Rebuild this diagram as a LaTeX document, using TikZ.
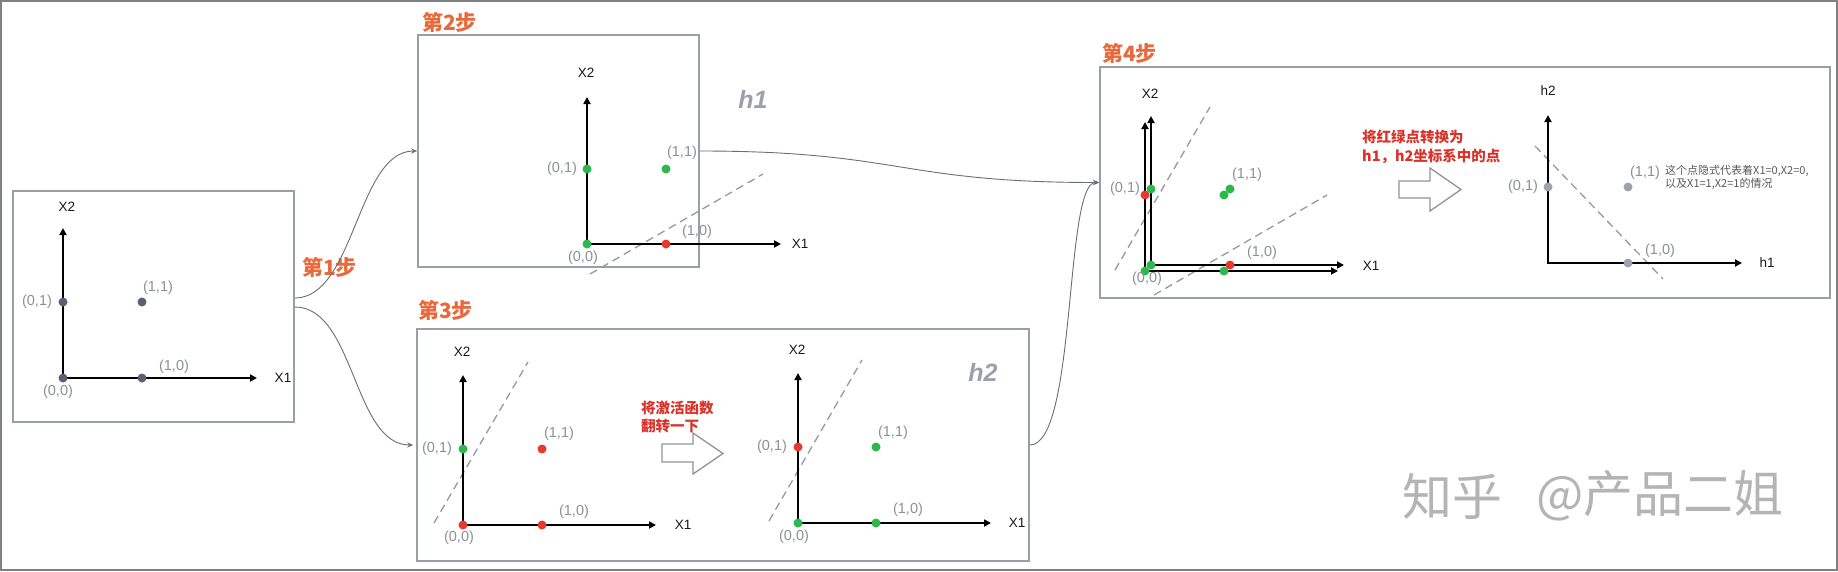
\documentclass[tikz,border=0pt]{standalone}
\usepackage{fontspec}
\setmainfont{Liberation Sans}
\newfontfamily\cjk{Noto Sans CJK SC}
\usetikzlibrary{arrows.meta,calc}
\definecolor{orangeT}{HTML}{E8693B}
\definecolor{redT}{HTML}{D8322A}
\definecolor{ptgreen}{HTML}{2DB84C}
\definecolor{ptred}{HTML}{E63A2E}
\definecolor{ptslate}{HTML}{5A6172}
\definecolor{ptgray}{HTML}{9EA2AD}
\definecolor{boxgray}{HTML}{9A9EA8}
\definecolor{labgray}{HTML}{8C9099}
\definecolor{hgray}{HTML}{9BA0AA}
\definecolor{framegray}{HTML}{808080}
\definecolor{wmgray}{HTML}{B4B4B4}
\definecolor{conngray}{HTML}{6A6E78}
\definecolor{notegray}{HTML}{5A5A5A}
\tikzset{
  box/.style={draw=boxgray, line width=1.6pt, inner sep=0pt},
  axis/.style={line width=1.8pt, black, {Triangle[length=7pt,width=7pt]}-{Triangle[length=7pt,width=7pt]}},
  dot/.style={circle, inner sep=0pt, minimum size=9pt},
  coordlab/.style={text=labgray, font=\fontsize{14.5}{17}\selectfont, inner sep=0pt},
  axlab/.style={text=black!90, font=\fontsize{13.5}{16}\selectfont, inner sep=0pt},
  steplbl/.style={text=orangeT, font=\cjk\bfseries\fontsize{21}{24}\selectfont, inner sep=0pt},
  hlab/.style={text=hgray, font=\bfseries\itshape\fontsize{25}{30}\selectfont, inner sep=0pt},
  sepline/.style={draw=gray!80, dash pattern=on 8pt off 5pt, line width=1.3pt},
  conn/.style={draw=conngray, line width=0.9pt, -{Stealth[length=6pt,width=5pt]}},
  hollow/.style={draw=gray!85, fill=white, line width=1.3pt},
  note/.style={text=redT, font=\cjk\bfseries\fontsize{14.5}{18}\selectfont, align=left, inner sep=0pt},
  smallnote/.style={text=notegray, font=\cjk\fontsize{11}{13}\selectfont, align=left, inner sep=0pt},
  wmark/.style={text=wmgray, font=\cjk\fontsize{50}{56}\selectfont, inner sep=0pt}
}
\newcommand\axset[5]{% name, ox, oy, top y, end x
  \coordinate (#1o) at (#2,#3);
  \coordinate (#1y) at (#2,#4);
  \coordinate (#1x) at (#5,#3);
  \draw[axis] (#1y) -- (#1o) -- (#1x);
}
\begin{document}
\begin{tikzpicture}[x=1pt,y=-1pt]
\useasboundingbox (0,0) rectangle (1838,571);
\fill[white] (0,0) rectangle (1838,571);
\draw[framegray, line width=2pt] (1,1) rectangle (1837,570);

% ---------- boxes ----------
\node[box, minimum width=281pt, minimum height=231pt] (b1) at (153.5,306.5) {};
\node[box, minimum width=281pt, minimum height=232pt] (b2) at (558.5,151) {};
\node[box, minimum width=612pt, minimum height=232pt] (b3) at (723,445) {};
\node[box, minimum width=730pt, minimum height=231pt] (b4) at (1465,182.5) {};

% ---------- step labels ----------
\node[steplbl] (st1) at (329.5,267) {第1步};
\node[steplbl] (st2) at (449.5,22) {第2步};
\node[steplbl] (st3) at (445.5,310) {第3步};
\node[steplbl] (st4) at (1129.5,53) {第4步};

% ---------- connectors ----------
\draw[conn] ([yshift=8.5pt]b1.east) .. controls +(60,0) and +(-60,0) .. (b2.west);
\draw[conn] ([yshift=-0.5pt]b1.east) .. controls +(60,0) and +(-60,0) .. ([xshift=-3pt]b3.west);
\draw[conn] (b2.east) .. controls +(200,0) and +(-200,0) .. (b4.west);
\draw[conn] (b3.east) .. controls +(47,0) and +(-35,0) .. (b4.west);

% ---------- step 1 ----------
\axset{a}{63}{378}{228}{257}
\node[dot, fill=ptslate] (a01) at (63,302) {};
\node[dot, fill=ptslate] (a11) at (142,302) {};
\node[dot, fill=ptslate] (a10) at (142,378) {};
\node[dot, fill=ptslate] (a00) at (63,378) {};
\node[axlab] (ax2) at (67,207) {X2};
\node[axlab] (ax1) at (283,378) {X1};
\node[coordlab] (al01) at (37,302) {(0,1)};
\node[coordlab] (al11) at (158,288) {(1,1)};
\node[coordlab] (al10) at (174,367) {(1,0)};
\node[coordlab] (al00) at (58,392) {(0,0)};

% ---------- step 2 ----------
\draw[sepline] (590,274) -- (763,174);
\axset{b}{587}{244}{97}{781}
\node[dot, fill=ptgreen] (b01) at (587,169) {};
\node[dot, fill=ptgreen] (b11) at (666,169) {};
\node[dot, fill=ptred] (b10) at (666,244) {};
\node[dot, fill=ptgreen] (b00) at (587,244) {};
\node[axlab] (bx2) at (586,73) {X2};
\node[axlab] (bx1) at (800,244) {X1};
\node[coordlab] (bl01) at (562,169) {(0,1)};
\node[coordlab] (bl11) at (682,153) {(1,1)};
\node[coordlab] (bl10) at (697,232) {(1,0)};
\node[coordlab] (bl00) at (583,258) {(0,0)};
\node[hlab] (h1) at (753,99) {h1};

% ---------- step 3 left ----------
\draw[sepline] (434,523) -- (528,362);
\axset{c}{463}{525}{375}{656}
\node[dot, fill=ptgreen] (c01) at (463,449) {};
\node[dot, fill=ptred] (c11) at (542,449) {};
\node[dot, fill=ptred] (c10) at (542,525) {};
\node[dot, fill=ptred] (c00) at (463,525) {};
\node[axlab] (cx2) at (462,352) {X2};
\node[axlab] (cx1) at (683,525) {X1};
\node[coordlab] (cl01) at (437,449) {(0,1)};
\node[coordlab] (cl11) at (559,434) {(1,1)};
\node[coordlab] (cl10) at (574,512) {(1,0)};
\node[coordlab] (cl00) at (459,538) {(0,0)};

\node[note, anchor=west] (n3) at (641,417) {将激活函数\\翻转一下};
\draw[hollow] (662,444) -- (693,444) -- (693,433) -- (723,453.5) -- (693,474) -- (693,462) -- (662,462) -- cycle;

% ---------- step 3 right ----------
\draw[sepline] (769,521) -- (862,360);
\axset{d}{798}{523}{373}{991}
\node[dot, fill=ptred] (d01) at (798,447) {};
\node[dot, fill=ptgreen] (d11) at (876,447) {};
\node[dot, fill=ptgreen] (d10) at (876,523) {};
\node[dot, fill=ptgreen] (d00) at (798,523) {};
\node[axlab] (dx2) at (797,350) {X2};
\node[axlab] (dx1) at (1017,523) {X1};
\node[coordlab] (dl01) at (772,447) {(0,1)};
\node[coordlab] (dl11) at (893,433) {(1,1)};
\node[coordlab] (dl10) at (908,510) {(1,0)};
\node[coordlab] (dl00) at (794,537) {(0,0)};
\node[hlab] (h2) at (983,372) {h2};

% ---------- step 4 left ----------
\draw[sepline] (1115,270) -- (1210,107);
\draw[sepline] (1154,295) -- (1327,195);
\axset{e}{1145}{271}{122}{1338}
\axset{f}{1151}{265}{116}{1344}
\node[dot, fill=ptgreen] (f01) at (1151,189) {};
\node[dot, fill=ptgreen] (f11) at (1230,189) {};
\node[dot, fill=ptgreen] (f00) at (1151,265) {};
\node[dot, fill=ptgreen] (e11) at (1224,195) {};
\node[dot, fill=ptgreen] (e10) at (1224,271) {};
\node[dot, fill=ptgreen] (e00) at (1145,271) {};
\node[dot, fill=ptred] (e01) at (1145,195) {};
\node[dot, fill=ptred] (f10) at (1230,265) {};
\node[axlab] (fx2) at (1150,94) {X2};
\node[axlab] (fx1) at (1371,266) {X1};
\node[coordlab] (fl01) at (1125,189) {(0,1)};
\node[coordlab] (fl11) at (1247,175) {(1,1)};
\node[coordlab] (fl10) at (1262,253) {(1,0)};
\node[coordlab] (fl00) at (1147,279) {(0,0)};

\node[note, anchor=west, font=\cjk\bfseries\fontsize{14.5}{19}\selectfont] (n4) at (1362,146.5) {将红绿点转换为\\h1，h2坐标系中的点};
\draw[hollow] (1399,181) -- (1430,181) -- (1430,168) -- (1461,189.5) -- (1430,211) -- (1430,198) -- (1399,198) -- cycle;

% ---------- step 4 right ----------
\draw[sepline] (1535,146) -- (1663,279);
\axset{g}{1548}{263}{115}{1742}
\node[dot, fill=ptgray] (g01) at (1548,187) {};
\node[dot, fill=ptgray] (g11) at (1628,187) {};
\node[dot, fill=ptgray] (g10) at (1628,263) {};
\node[axlab] (gx2) at (1548,91) {h2};
\node[axlab] (gx1) at (1767,263) {h1};
\node[coordlab] (gl01) at (1523,187) {(0,1)};
\node[coordlab] (gl11) at (1645,173) {(1,1)};
\node[coordlab] (gl10) at (1660,251) {(1,0)};
\node[smallnote, anchor=west] (sn) at (1665,177.5) {这个点隐式代表着X1=0,X2=0,\\以及X1=1,X2=1的情况};

% ---------- watermark ----------
\node[wmark] (wm1) at (1452,496) {知乎};
\node[wmark] (wm2) at (1660,496) {@产品二姐};
\end{tikzpicture}
\end{document}
